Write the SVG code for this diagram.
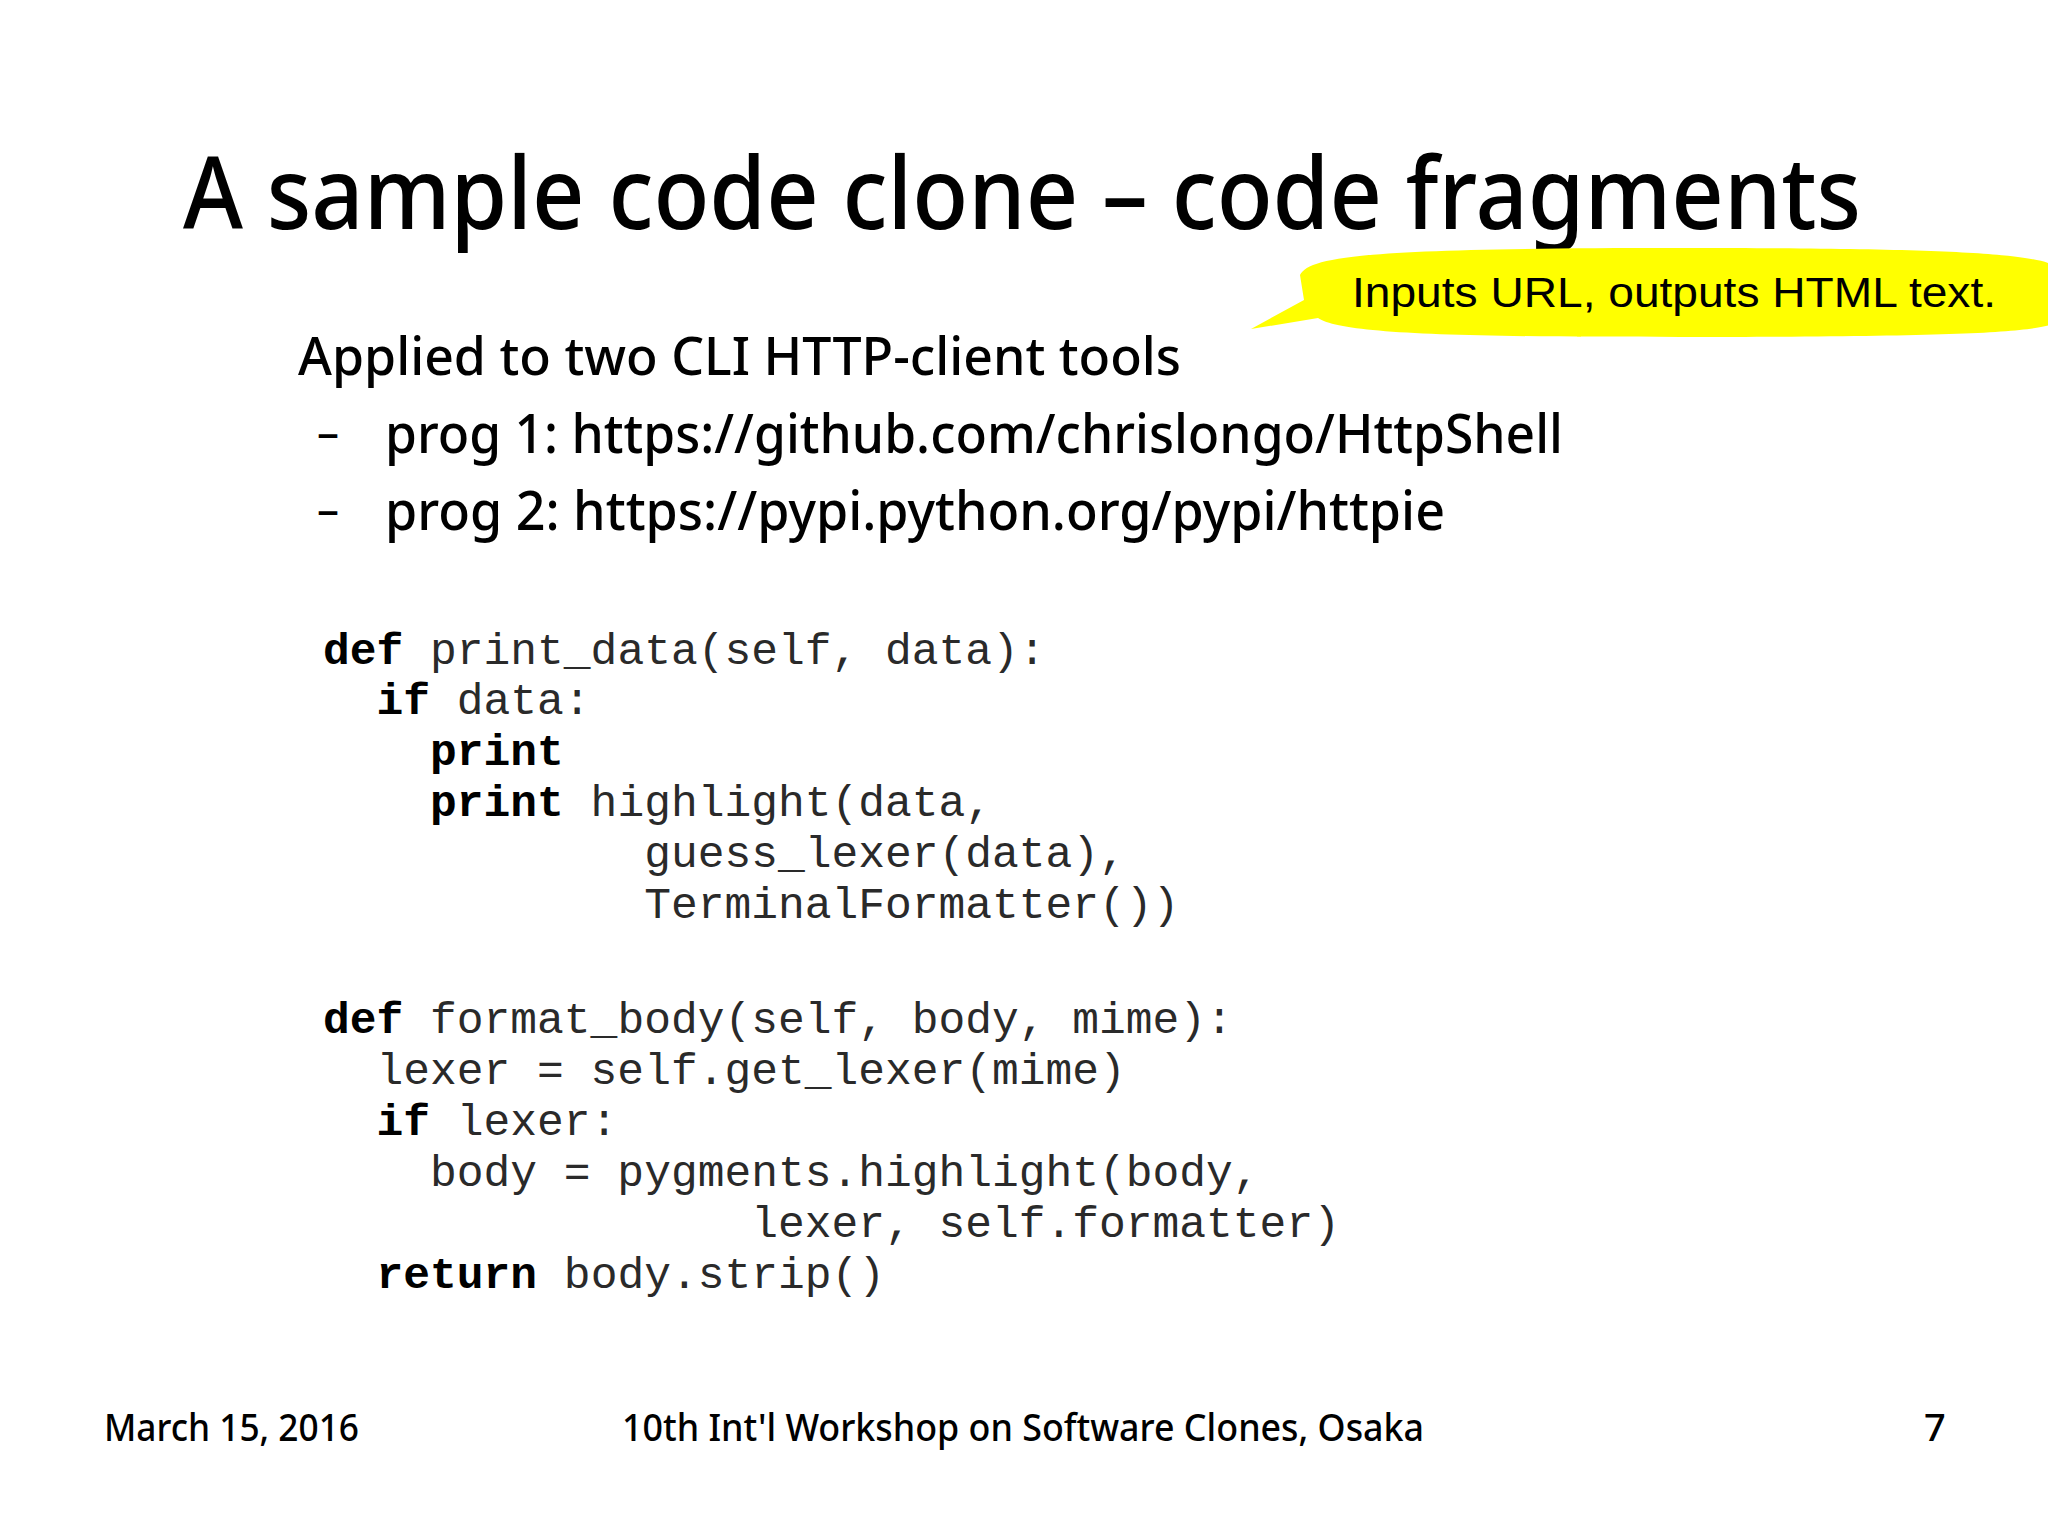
<svg xmlns="http://www.w3.org/2000/svg" width="2048" height="1535" viewBox="0 0 2048 1535">
<style>
.s{font-family:"Noto Sans","Open Sans",sans-serif;fill:#000;font-weight:500}
.c{font-family:"Liberation Mono","DejaVu Sans Mono",monospace;font-size:44.6px;fill:#2a2a2a;white-space:pre}
.k{font-weight:bold;fill:#000}
.f{font-family:"Noto Sans","Open Sans",sans-serif;font-size:38px;fill:#000;font-weight:500}
</style>
<rect width="2048" height="1535" fill="#fff"/>
<g id="title"><text class="s" x="183" y="229" font-size="100" textLength="1678" lengthAdjust="spacingAndGlyphs">A sample code clone – code fragments</text></g>
<g id="callout">
<path d="M1300,275 C1310,255 1380,248 1680,248 C1980,248 2048,255 2060,270 L2060,320 C2048,332 1980,337 1680,337 C1440,337 1340,333 1318,318 L1251,329 L1304,300 Z" fill="#ffff00"/>
<text x="1352" y="307" font-family="Liberation Sans,Arial,sans-serif" font-size="43" fill="#000" textLength="644" lengthAdjust="spacingAndGlyphs">Inputs URL, outputs HTML text.</text>
</g>
<g id="bullets">
<text class="s" x="298" y="375" font-size="52" textLength="883" lengthAdjust="spacingAndGlyphs">Applied to two CLI HTTP-client tools</text>
<text class="s" x="317" y="448" font-size="44">–</text>
<text class="s" x="385" y="453" font-size="55" textLength="1178" lengthAdjust="spacingAndGlyphs">prog 1: https://github.com/chrislongo/HttpShell</text>
<text class="s" x="317" y="525" font-size="44">–</text>
<text class="s" x="385" y="530" font-size="55" textLength="1060" lengthAdjust="spacingAndGlyphs">prog 2: https://pypi.python.org/pypi/httpie</text>
</g>
<g id="code1">
<text class="c" x="323" y="664"><tspan class="k">def</tspan> print_data(self, data):</text>
<text class="c" x="323" y="714">  <tspan class="k">if</tspan> data:</text>
<text class="c" x="323" y="765">    <tspan class="k">print</tspan></text>
<text class="c" x="323" y="816">    <tspan class="k">print</tspan> highlight(data,</text>
<text class="c" x="323" y="867">            guess_lexer(data),</text>
<text class="c" x="323" y="918">            TerminalFormatter())</text>
</g>
<g id="code2">
<text class="c" x="323" y="1033"><tspan class="k">def</tspan> format_body(self, body, mime):</text>
<text class="c" x="323" y="1084">  lexer = self.get_lexer(mime)</text>
<text class="c" x="323" y="1135">  <tspan class="k">if</tspan> lexer:</text>
<text class="c" x="323" y="1186">    body = pygments.highlight(body,</text>
<text class="c" x="323" y="1237">                lexer, self.formatter)</text>
<text class="c" x="323" y="1288">  <tspan class="k">return</tspan> body.strip()</text>
</g>
<g id="footer">
<text class="f" x="104" y="1441" textLength="255" lengthAdjust="spacingAndGlyphs">March 15, 2016</text>
<text class="f" x="622" y="1441" textLength="802" lengthAdjust="spacingAndGlyphs">10th Int'l Workshop on Software Clones, Osaka</text>
<text class="f" x="1924" y="1441">7</text>
</g>
</svg>
